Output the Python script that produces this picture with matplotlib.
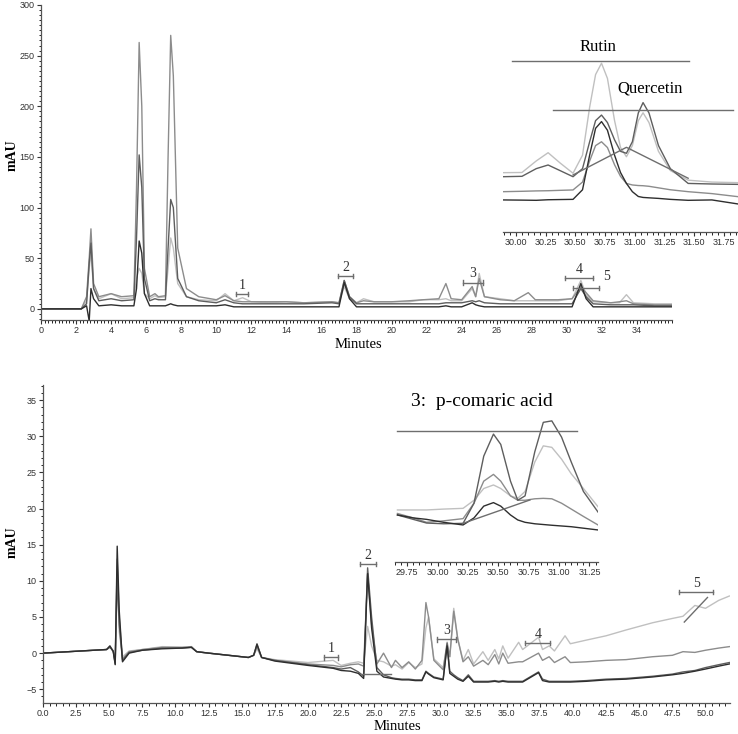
import numpy as np
import matplotlib.pyplot as plt
from matplotlib.ticker import MultipleLocator, FormatStrFormatter

W, H = 738, 734

# colores de las trazas (escala de grises)
C_LIGHT = '#c0c0c0'
C_MID = '#8c8c8c'
C_DARK = '#5e5e5e'
C_BLACK = '#2e2e2e'
C_MARK = '#6e6e6e'

# ---------------- cromatograma superior ----------------
top_time = [0, 2.3, 2.6, 2.75, 2.85, 3.0, 3.3, 4.0, 4.6, 5.3,
            5.45, 5.6, 5.75, 5.9, 6.2, 6.5, 6.7, 7.1, 7.25, 7.4,
            7.55, 7.8, 8.3, 9.0, 10.0, 10.5, 11.0, 11.5, 12.0, 13.0,
            14.0, 15.0, 16.6, 17.0, 17.3, 17.6, 18.0, 18.4, 19.0, 20.0,
            21.0, 21.8, 22.7, 23.1, 23.4, 24.0, 24.6, 24.8, 25.0, 25.3,
            26.2, 27.0, 27.8, 28.2, 29.5, 30.3, 30.8, 31.1, 31.5, 32.5,
            33.0, 33.4, 33.8, 35.0, 36.0]
top_light = [0, 0, 8, 40, 55, 20, 10, 15, 10, 11,
             30, 40, 35, 15, 10, 13, 11, 12, 40, 70,
             60, 25, 12, 9, 8, 15, 8, 11, 7, 6,
             7, 6, 7, 6, 22, 10, 6, 10, 7, 7,
             7, 9, 9, 10, 8, 8, 20, 12, 35, 12,
             10, 8, 8, 8, 8, 10, 28, 14, 7, 6,
             6, 14, 6, 5, 5]
top_mid = [0, 0, 12, 50, 79, 25, 12, 15, 12, 13,
           120, 263, 200, 40, 12, 15, 12, 13, 150, 270,
           230, 60, 20, 12, 9, 13, 8, 7, 7, 7,
           7, 6, 7, 6, 28, 12, 6, 8, 7, 7,
           8, 9, 10, 25, 10, 9, 22, 12, 30, 12,
           9, 8, 16, 9, 9, 10, 22, 16, 8, 6,
           7, 8, 5, 4, 4]
top_dark = [0, 0, 5, 45, 65, 20, 8, 10, 8, 9,
            70, 152, 120, 30, 8, 10, 9, 9, 60, 108,
            100, 30, 12, 8, 6, 9, 6, 5, 5, 5,
            5, 5, 6, 5, 28, 12, 5, 5, 5, 5,
            5, 5, 5, 6, 6, 6, 8, 7, 8, 6,
            5, 5, 5, 5, 5, 5, 20, 12, 5, 4,
            4, 4, 4, 3, 3]
top_black = [0, 0, 3, -12, 20, 10, 3, 4, 3, 3,
             20, 67, 55, 15, 3, 3, 3, 3, 4, 5,
             4, 3, 3, 3, 3, 4, 2, 2, 2, 2,
             2, 2, 2, 2, 26, 10, 2, 2, 2, 2,
             2, 2, 2, 3, 2, 2, 6, 4, 3, 2,
             2, 2, 2, 2, 2, 2, 25, 10, 2, 2,
             2, 2, 2, 2, 2]

top_peak_labels = ['1', '2', '3', '4', '5']
top_peak_x0 = [11.14, 16.95, 24.05, 29.9, 30.34]
top_peak_x1 = [11.8, 17.8, 25.23, 31.52, 31.86]
top_peak_y = [15, 32, 26, 30.3, 20.4]

# ampliación superior (Rutin / Quercetin)
ins1_time = [29.89, 30.05, 30.17, 30.27, 30.37, 30.48, 30.56, 30.62, 30.67, 30.72, 30.77, 30.83,
             30.88, 30.93, 30.98, 31.03, 31.07, 31.12, 31.2, 31.3, 31.45, 31.65, 31.87]
ins1_light = [30.9, 31, 37, 41.3, 36, 30.6, 40, 65, 82, 87.9, 80, 58,
              44, 39.2, 45, 58, 62.1, 57, 42, 32, 27, 26, 25.7]
ins1_mid = [28.8, 29, 33, 34.9, 32, 28.8, 33, 47, 58, 60.9, 57, 48,
            42, 41, 47, 62, 67.4, 62, 45, 33, 25.3, 25, 24.8]
ins1_gray = [21, 21.2, 21.4, 21.5, 21.7, 21.9, 26, 37, 45, 47, 44, 35,
             29, 25.3, 24.5, 24.2, 24.1, 23.8, 23, 22, 21, 20, 18.4]
ins1_dark = [16.7, 16.6, 16.5, 16.8, 16.9, 17, 22, 40, 54, 57.5, 53, 40,
             31, 25.3, 21, 18.5, 18, 17.8, 17.5, 17, 16.5, 16.7, 14.6]
ins1_base_x = [30.48, 30.93, 31.45]
ins1_base_y = [29.7, 44.1, 28.0]

# ---------------- cromatograma inferior ----------------
bot_time = [0, 4.8, 5.05, 5.3, 5.45, 5.6, 5.75, 6.0, 6.5, 7.5,
            9.0, 10.5, 11.2, 11.6, 12.5, 15.5, 15.9, 16.15, 16.5, 17.5,
            20.0, 21.9, 22.5, 23.2, 23.8, 24.2, 24.5, 24.8, 25.2, 25.7,
            26.3, 26.6, 27.1, 27.6, 28.1, 28.6, 28.9, 29.1, 29.5, 30.2,
            30.5, 30.7, 31.0, 31.3, 31.7, 32.1, 32.5, 33.2, 33.6, 34.1,
            34.4, 34.7, 35.1, 35.9, 36.2, 37.4, 37.7, 38.2, 38.6, 39.4,
            39.8, 41.0, 42.5, 44.0, 46.0, 47.5, 48.3, 49.2, 50.0, 51.0,
            51.8]
bot_light = [0, 0.5, 1.0, 0.3, -1.0, 12, 3, -0.5, 0.3, 0.5,
             0.9, 0.8, 0.9, 0.2, 0.0, -0.6, -0.3, 0.6, -0.6, -0.9,
             -1.3, -1.0, -1.7, -1.4, -1.2, -1.4, 3.7, 1.0, -1.0, -1.2,
             -1.8, -1.6, -2.2, -1.3, -2.0, -1.5, 3.5, 5.0, -0.8, -2.0,
             1.0, -0.5, 6.2, 2.0, -1.0, 0.5, -1.5, 0.2, -1.0, 0.5,
             -0.8, 1.0, -0.7, 1.5, 0.5, 2.2, 0.5, 1.0, 0.3, 2.4,
             1.3, 1.8, 2.4, 3.2, 4.2, 4.8, 5.1, 6.6, 6.2, 7.3,
             7.9]
bot_mid = [0, 0.5, 0.9, 0.3, -1.3, 13, 5, -0.8, 0.2, 0.5,
           0.8, 0.8, 0.9, 0.2, 0.0, -0.6, -0.3, 0.9, -0.6, -1.0,
           -1.5, -1.7, -1.9, -1.6, -1.5, -1.8, 11.0, 4.0, -1.5, 0.0,
           -2.0, -1.0, -2.0, -1.2, -2.2, -1.0, 7.0, 5.0, -1.0, -2.3,
           1.5, -0.5, 5.8, 2.0, -1.2, -0.5, -1.8, -1.0, -1.6, -0.2,
           -1.5, 0.0, -1.4, -1.2, -1.2, 0.0, -1.0, -0.5, -1.3, -0.5,
           -1.3, -1.2, -1.0, -0.9, -0.5, -0.3, 0.2, 0.1, 0.4, 0.7,
           0.9]
bot_dark = [0, 0.5, 0.8, 0.3, -1.5, 10.5, 4, -1.0, 0.1, 0.4,
            0.7, 0.7, 0.8, 0.2, 0.0, -0.6, -0.3, 1.3, -0.6, -1.0,
            -1.6, -2.0, -2.2, -2.0, -2.6, -3.2, 11.8, 5.0, -2.0, -3.0,
            -3.4, -3.5, -3.6, -3.6, -3.7, -3.7, -2.5, -2.8, -3.3, -3.6,
            1.3, -2.5, -3.0, -3.4, -3.8, -3.0, -3.9, -3.9, -3.9, -3.8,
            -3.9, -3.8, -3.9, -3.9, -3.9, -2.6, -3.6, -3.9, -3.9, -3.9,
            -3.9, -3.8, -3.6, -3.5, -3.2, -2.9, -2.6, -2.4, -2.0, -1.6,
            -1.3]
bot_black = [0, 0.5, 1.0, 0.2, -1.6, 14.8, 6, -1.2, 0.0, 0.4,
             0.6, 0.7, 0.8, 0.2, 0.0, -0.6, -0.3, 1.2, -0.6, -1.1,
             -1.7, -2.1, -2.4, -2.5, -2.8, -3.5, 11.0, 3.5, -2.5, -3.3,
             -3.5, -3.6, -3.7, -3.7, -3.8, -3.8, -2.6, -2.9, -3.4, -3.7,
             1.0, -2.8, -3.2, -3.6, -3.9, -3.2, -4.0, -4.0, -4.0, -3.9,
             -4.0, -3.9, -4.0, -4.0, -4.0, -2.7, -3.8, -4.0, -4.0, -4.0,
             -4.0, -3.9, -3.7, -3.6, -3.3, -3.0, -2.8, -2.5, -2.2, -1.8,
             -1.5]

bot_peak_labels = ['1', '2', '3', '4', '5']
bot_peak_x0 = [21.2, 23.9, 29.7, 36.4, 48.0]
bot_peak_x1 = [22.3, 25.15, 31.2, 38.3, 50.6]
bot_peak_y = [-0.6, 12.3, 1.9, 1.4, 8.5]

# ampliación inferior (ácido p-cumárico)
ins2_time = [29.67, 29.8, 29.91, 30.05, 30.21, 30.3, 30.38, 30.46, 30.52, 30.6, 30.66, 30.72,
             30.8, 30.87, 30.94, 31.02, 31.1, 31.2, 31.32]
ins2_dark = [32, 29, 26.5, 26, 26.3, 40, 72, 87, 80, 55, 42, 45,
             75, 95, 96, 85, 68, 48, 34]
ins2_light = [35.4, 35.4, 35.4, 36, 36.5, 42, 50, 52.4, 50, 45, 43.3, 48,
              68, 79, 78, 70, 60, 50, 37.6]
ins2_mid = [33, 30, 27, 28, 29.5, 40, 55, 59.6, 55, 45, 42, 42,
            43, 43.3, 43, 40, 36, 31, 25.2]
ins2_black = [32, 30, 29, 27, 25.2, 30, 38, 40.4, 38, 32, 28.6, 27,
              26, 25.5, 25, 24.5, 24, 23, 21.8]
ins2_base_x = [30.21, 30.76]
ins2_base_y = [26.3, 42.2]

TICK_FONT = 'Liberation Sans'
SERIF = 'Liberation Serif'


def add_axes_px(fig, x0, y0, x1, y1):
    # rectángulo en píxeles (origen arriba a la izquierda)
    return fig.add_axes([x0 / W, 1 - y1 / H, (x1 - x0) / W, (y1 - y0) / H])


def style_axes(ax, show_y=True):
    ax.spines['top'].set_visible(False)
    ax.spines['right'].set_visible(False)
    ax.patch.set_alpha(0)
    if not show_y:
        ax.spines['left'].set_visible(False)
        ax.set_yticks([])
    ax.tick_params(which='major', direction='out', length=3, width=0.8, pad=1.5,
                   labelsize=6.5, colors='#333333')
    ax.tick_params(which='minor', direction='out', length=1.8, width=0.6)
    for sp in ax.spines.values():
        sp.set_color('#555555')
        sp.set_linewidth(0.9)
    for lab in ax.get_xticklabels() + ax.get_yticklabels():
        lab.set_fontfamily(TICK_FONT)


def bracket(ax, x0, x1, y, cap, label, where='top'):
    ax.plot([x0, x1], [y, y], color=C_MARK, lw=1.0)
    ax.plot([x0, x0], [y - cap, y + cap], color=C_MARK, lw=1.0)
    ax.plot([x1, x1], [y - cap, y + cap], color=C_MARK, lw=1.0)
    if where == 'top':
        ax.annotate(label, ((x0 + x1) / 2, y), xytext=(0, 1.5), textcoords='offset points',
                    ha='center', va='bottom', fontsize=10, family=SERIF, color='#333333')
    else:
        ax.annotate(label, (x1, y), xytext=(3, 4), textcoords='offset points',
                    ha='left', va='bottom', fontsize=10, family=SERIF, color='#333333')


fig = plt.figure(figsize=(W / 100, H / 100), dpi=100)

# ---- panel superior ----
ax1 = add_axes_px(fig, 41, 5, 672, 320)
for ys, c in [(top_light, C_LIGHT), (top_mid, C_MID), (top_dark, C_DARK), (top_black, C_BLACK)]:
    ax1.plot(top_time, ys, color=c, lw=1.0)
ax1.set_xlim(0, 36.0)
ax1.set_ylim(-11, 300)
ax1.set_xticks(np.arange(0, 35, 2))
ax1.set_yticks(np.arange(0, 301, 50))
ax1.xaxis.set_minor_locator(MultipleLocator(0.2))
ax1.yaxis.set_minor_locator(MultipleLocator(5))
style_axes(ax1)
for i, lab in enumerate(top_peak_labels):
    bracket(ax1, top_peak_x0[i], top_peak_x1[i], top_peak_y[i], 2.0, lab,
            where='side' if lab == '5' else 'top')
fig.text(12 / W, 1 - 155 / H, 'mAU', rotation=90, ha='center', va='center',
         fontsize=10, fontweight='bold', family=SERIF)
fig.text(358 / W, 1 - 344 / H, 'Minutes', ha='center', va='center', fontsize=10.5, family=SERIF)

# ampliación superior
in1 = add_axes_px(fig, 503, 40, 738, 232)
for ys, c in [(ins1_light, C_LIGHT), (ins1_mid, C_DARK), (ins1_gray, C_MID), (ins1_dark, C_BLACK)]:
    in1.plot(ins1_time, ys, color=c, lw=1.0)
in1.plot(ins1_base_x, ins1_base_y, color=C_MARK, lw=1.0)
in1.set_xlim(29.89, 31.87)
in1.set_ylim(0, 100)
in1.set_xticks(np.arange(30.0, 31.8, 0.25))
in1.xaxis.set_major_formatter(FormatStrFormatter('%.2f'))
in1.xaxis.set_minor_locator(MultipleLocator(0.05))
style_axes(in1, show_y=False)
in1.plot([29.97, 31.46], [89, 89], color=C_MARK, lw=1.0)
in1.plot([30.31, 31.83], [63.5, 63.5], color=C_MARK, lw=1.0)
in1.text(30.69, 96.5, 'Rutin', ha='center', va='center', fontsize=12, family=SERIF)
in1.text(31.13, 74.8, 'Quercetin', ha='center', va='center', fontsize=12, family=SERIF)

# ---- panel inferior ----
ax2 = add_axes_px(fig, 43, 385, 730, 703)
for ys, c in [(bot_light, C_LIGHT), (bot_mid, C_MID), (bot_dark, C_DARK), (bot_black, C_BLACK)]:
    ax2.plot(bot_time, ys, color=c, lw=1.0)
ax2.plot([24.0, 26.3], [-2.9, -2.9], color=C_MARK, lw=1.0)
ax2.plot([48.4, 50.15], [4.3, 7.7], color=C_MARK, lw=1.0)
ax2.set_xlim(0, 51.85)
ax2.set_ylim(-6.9, 37.1)
ax2.set_xticks(np.arange(0, 50.1, 2.5))
ax2.set_yticks(np.arange(-5, 36, 5))
ax2.xaxis.set_major_formatter(FormatStrFormatter('%.1f'))
ax2.xaxis.set_minor_locator(MultipleLocator(0.5))
ax2.yaxis.set_minor_locator(MultipleLocator(1))
style_axes(ax2)
for i, lab in enumerate(bot_peak_labels):
    bracket(ax2, bot_peak_x0[i], bot_peak_x1[i], bot_peak_y[i], 0.3, lab)
fig.text(12 / W, 1 - 542 / H, 'mAU', rotation=90, ha='center', va='center',
         fontsize=10, fontweight='bold', family=SERIF)
fig.text(397 / W, 1 - 727 / H, 'Minutes', ha='center', va='center', fontsize=10.5, family=SERIF)

# ampliación inferior
in2 = add_axes_px(fig, 395, 415, 598, 562)
for ys, c in [(ins2_light, C_LIGHT), (ins2_mid, C_MID), (ins2_dark, C_DARK), (ins2_black, C_BLACK)]:
    in2.plot(ins2_time, ys, color=c, lw=1.0)
in2.plot(ins2_base_x, ins2_base_y, color=C_MARK, lw=1.0)
in2.plot([29.67, 31.15], [89.3, 89.3], color=C_MARK, lw=1.0)
in2.set_xlim(29.65, 31.32)
in2.set_ylim(0, 100)
in2.set_xticks(np.arange(29.75, 31.3, 0.25))
in2.xaxis.set_major_formatter(FormatStrFormatter('%.2f'))
in2.xaxis.set_minor_locator(MultipleLocator(0.05))
style_axes(in2, show_y=False)
fig.text(482 / W, 1 - 402 / H, '3:  p-comaric acid', ha='center', va='center',
         fontsize=14, family=SERIF)

fig.savefig('out.png', dpi=100)
